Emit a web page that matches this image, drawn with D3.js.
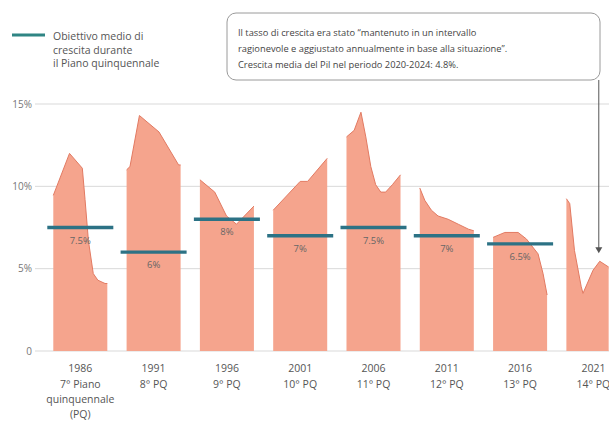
<!DOCTYPE html>
<html>
<head>
<meta charset="utf-8">
<script src="https://cdn.jsdelivr.net/npm/d3@7"></script>
<style>
  body { margin: 0; background: #fff; }
  svg { display: block; font-family: "Open Sans", sans-serif; }
</style>
</head>
<body>
<div id="chart"></div>
<script>
/////////////////////////
// data
/////////////////////////
const plans = ["1986", "1991", "1996", "2001", "2006", "2011", "2016", "2021"];
const planNames = ["7° Piano", "8° PQ", "9° PQ", "10° PQ", "11° PQ", "12° PQ", "13° PQ", "14° PQ"];
const targets = [7.5, 6, 8, 7, 7.5, 7, 6.5, null];
const targetLabels = ["7.5%", "6%", "8%", "7%", "7.5%", "7%", "6.5%", ""];
const yTicks = [0, 5, 10, 15];

// growth readings for each plan: [years since start of plan, growth %]
const g1986 = [[0, 9.45], [1.2, 12.0], [2.15, 11.1], [2.35, 9.2], [2.6, 6.7], [2.96, 4.7], [3.3, 4.3], [3.83, 4.1], [4, 4.1]];
const g1991 = [[0, 11.0], [0.25, 11.2], [0.95, 14.3], [2.4, 13.3], [3.85, 11.3], [4, 11.3]];
const g1996 = [[0, 10.4], [1.1, 9.65], [1.97, 8.2], [2.71, 7.7], [4, 8.8]];
const g2001 = [[0, 8.55], [2.0, 10.3], [2.55, 10.3], [4, 11.7]];
const g2006 = [[0, 13.0], [0.57, 13.4], [1.07, 14.5], [1.43, 13.0], [1.8, 11.2], [2.16, 10.1], [2.54, 9.65], [2.9, 9.65], [3.4, 10.1], [4, 10.7]];
const g2011 = [[0, 9.9], [0.37, 9.15], [0.86, 8.55], [1.35, 8.2], [2.1, 8.0], [2.85, 7.7], [3.6, 7.4], [4, 7.3]];
const g2016 = [[0, 6.9], [0.87, 7.2], [1.85, 7.2], [2.47, 6.8], [3.33, 5.9], [3.7, 4.7], [4, 3.4]];
const g2021 = [[0, 9.25], [0.25, 8.95], [0.6, 6.1], [1.1, 3.9], [1.23, 3.5], [1.97, 4.9], [2.47, 5.45], [3.13, 5.1]];
const growth = [g1986, g1991, g1996, g2001, g2006, g2011, g2016, g2021];

const legendLines = ["Obiettivo medio di", "crescita durante", "il Piano quinquennale"];
const noteLines = [
    "Il tasso di crescita era stato “mantenuto in un intervallo",
    "ragionevole e aggiustato annualmente in base alla situazione”.",
    "Crescita media del Pil nel periodo 2020-2024: 4.8%."
];

/////////////////////////
// setup
/////////////////////////
const W = 609, H = 425;
const fillCol = "#f5a48d", lineCol = "#e27a62", targetCol = "#2c7285", textCol = "#555";

const svg = d3.select("#chart")
    .append("svg")
    .attr("width", W)
    .attr("height", H);

const y = d3.scaleLinear()
    .domain([0, 15])
    .range([351, 104]);

const x = d3.scaleBand()
    .domain(plans)
    .range([53.3, 620.4])
    .paddingInner(0.263)
    .paddingOuter(0);

const xi = d3.scaleLinear()
    .domain([0, 4])
    .range([0, x.bandwidth()]);

// gridlines + y labels
svg.append("g").selectAll("line")
    .data(yTicks)
    .join("line")
    .attr("x1", 35).attr("x2", W)
    .attr("y1", d => y(d)).attr("y2", d => y(d))
    .attr("stroke", "#d9d9d9")
    .attr("stroke-width", 1);

svg.append("g").selectAll("text")
    .data(yTicks)
    .join("text")
    .attr("x", 32)
    .attr("y", d => y(d) + 3.5)
    .attr("text-anchor", "end")
    .attr("font-size", 10)
    .attr("fill", "#777")
    .text(d => d === 0 ? "0" : d + "%");

// areas
const area = d3.area()
    .x(d => xi(d[0]))
    .y0(y(0))
    .y1(d => y(d[1]));
const line = d3.line()
    .x(d => xi(d[0]))
    .y(d => y(d[1]));

const groups = svg.append("g").selectAll("g")
    .data(plans)
    .join("g")
    .attr("transform", d => `translate(${x(d)},0)`);

groups.append("path")
    .attr("d", (d, i) => area(growth[i]))
    .attr("fill", fillCol);
groups.append("path")
    .attr("d", (d, i) => line(growth[i]))
    .attr("fill", "none")
    .attr("stroke", lineCol)
    .attr("stroke-width", 1);

// target lines
const tg = groups.filter((d, i) => targets[i] !== null);
tg.append("line")
    .attr("x1", -6).attr("x2", x.bandwidth() + 6)
    .attr("y1", d => y(targets[plans.indexOf(d)]))
    .attr("y2", d => y(targets[plans.indexOf(d)]))
    .attr("stroke", targetCol)
    .attr("stroke-width", 3.3);
tg.append("text")
    .attr("x", x.bandwidth() / 2)
    .attr("y", d => y(targets[plans.indexOf(d)]) + 16)
    .attr("text-anchor", "middle")
    .attr("font-size", 9.5)
    .attr("fill", "#666")
    .text(d => targetLabels[plans.indexOf(d)]);

// x labels
const xl = svg.append("g").selectAll("text")
    .data(plans)
    .join("text")
    .attr("x", d => x(d) + x.bandwidth() / 2)
    .attr("y", 372)
    .attr("text-anchor", "middle")
    .attr("font-size", 10.5)
    .attr("fill", textCol);
xl.append("tspan").text(d => d);
xl.append("tspan")
    .attr("x", d => x(d) + x.bandwidth() / 2)
    .attr("dy", 15.5)
    .text((d, i) => planNames[i]);
xl.filter((d, i) => i === 0).append("tspan")
    .attr("x", d => x(d) + x.bandwidth() / 2)
    .attr("dy", 15)
    .text("quinquennale");
xl.filter((d, i) => i === 0).append("tspan")
    .attr("x", d => x(d) + x.bandwidth() / 2)
    .attr("dy", 15)
    .text("(PQ)");

// legend
svg.append("line")
    .attr("x1", 12).attr("x2", 45)
    .attr("y1", 35).attr("y2", 35)
    .attr("stroke", "#2f8584")
    .attr("stroke-width", 3);
svg.append("g").selectAll("text")
    .data(legendLines)
    .join("text")
    .attr("x", 53)
    .attr("y", (d, i) => 40 + i * 13.5)
    .attr("font-size", 10.5)
    .attr("fill", textCol)
    .text(d => d);

// annotation box + arrow
svg.append("rect")
    .attr("x", 227).attr("y", 13)
    .attr("width", 373).attr("height", 67)
    .attr("rx", 9)
    .attr("fill", "#fff")
    .attr("stroke", "#9a9a9a")
    .attr("stroke-width", 1);
svg.append("g").selectAll("text")
    .data(noteLines)
    .join("text")
    .attr("x", 238)
    .attr("y", (d, i) => 36 + i * 16)
    .attr("font-size", 9.3)
    .attr("fill", "#444")
    .text(d => d);

const ax = x("2021") + xi(2.4);
const tipY = y(g2021[6][1]) - 8;
svg.append("line")
    .attr("x1", ax).attr("x2", ax)
    .attr("y1", 80).attr("y2", tipY - 4)
    .attr("stroke", "#555")
    .attr("stroke-width", 1);
svg.append("path")
    .attr("d", `M${ax - 3.5},${tipY - 6}L${ax + 3.5},${tipY - 6}L${ax},${tipY}Z`)
    .attr("fill", "#555");
</script>
</body>
</html>
